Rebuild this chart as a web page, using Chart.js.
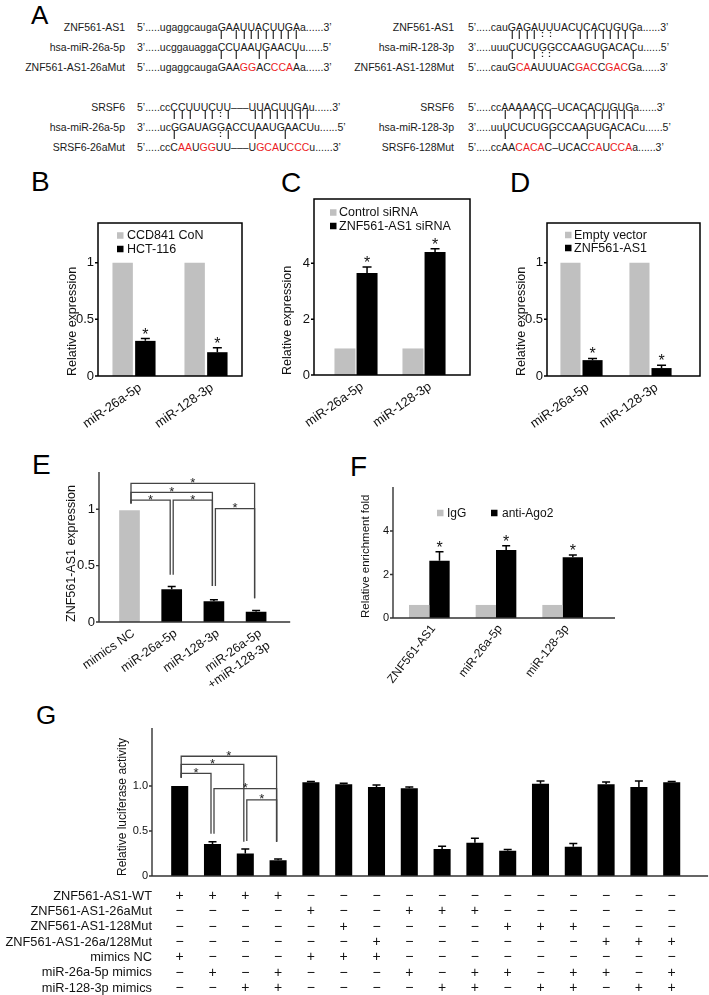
<!DOCTYPE html>
<html>
<head>
<meta charset="utf-8">
<script src="https://cdn.jsdelivr.net/npm/chart.js@4.4.1/dist/chart.umd.min.js"></script>
<style>
body { margin: 0; background: #fff; }
#page { position: relative; width: 709px; height: 995px; overflow: hidden; background: #fff;
  font-family: "Liberation Sans", Arial, Helvetica, sans-serif; color: #1a1a1a; }
.abs { position: absolute; white-space: nowrap; line-height: 1; }
.pm { font-weight: bold; color: #222; filter: grayscale(100%); }
canvas { position: absolute; }
</style>
</head>
<body>
<div id="page"></div>
<script>
// ---------- data ----------
// panel A: sequences, [..] = mutated (red) bases
var seqLabels = [
  ['ZNF561-AS1', 'hsa-miR-26a-5p', 'ZNF561-AS1-26aMut'],
  ['ZNF561-AS1', 'hsa-miR-128-3p', 'ZNF561-AS1-128Mut'],
  ['SRSF6', 'hsa-miR-26a-5p', 'SRSF6-26aMut'],
  ['SRSF6', 'hsa-miR-128-3p', 'SRSF6-128Mut']
];
var seqTexts = [
  ['5’.....ugaggcaugaGAAUUACUUGAa......3’', '3’.....ucggauaggaCCUAAUGAACUu......5’', '5’.....ugaggcaugaGAA[GG]AC[CCA]Aa......3’'],
  ['5’.....cauGAGAUUUACUCACUGUGa......3’', '3’.....uuuCUCUGGCCAAGUGACACu......5’', '5’.....cauG[CA]AUUUAC[GAC]C[GAC]Ga......3’'],
  ['5’.....ccCCUUUCUU–––UUACUUGAu......3’', '3’.....ucGGAUAGGACCUAAUGAACUu......5’', '5’.....ccC[AA]U[GG]UU–––U[GCA]U[CCC]u......3’'],
  ['5’.....ccAAAAACC–UCACACUGUGa......3’', '3’.....uuUCUCUGGCCAAGUGACACu......5’', '5’.....ccAA[CACA]C–UCAC[CA]U[CCA]a......3’']
];
// base pairing marks, aligned by character with the rows above/below
var seqPairs = [
  ['                 | |||||||||', '                 | |  ||   |'],
  ['          ||||::   ||||||||', '          |  |::      |   |'],
  ['         ||| ||:|   ||||||||', '         |     :|   |   |'],
  ['         | | |||    |||||||', '         |     |    |  |']
];

// panel B
var bCats = ['miR-26a-5p', 'miR-128-3p'];
var bNames = ['CCD841 CoN', 'HCT-116'];
var bCtrl = [1, 1];
var bHct = [0.31, 0.21];
var bHctErr = [0.02, 0.04];
var bTicks = [0, 0.5, 1];

// panel C
var cNames = ['Control siRNA', 'ZNF561-AS1 siRNA'];
var cCtrl = [0.95, 0.95];
var cSi = [3.65, 4.40];
var cSiErr = [0.22, 0.12];
var cTicks = [0, 2, 4];

// panel D
var dNames = ['Empty vector', 'ZNF561-AS1'];
var dEmpty = [1, 1];
var dZnf = [0.14, 0.07];
var dZnfErr = [0.015, 0.025];

// panel E
var eCats = ['mimics NC', 'miR-26a-5p', 'miR-128-3p', ['miR-26a-5p', '+miR-128-3p']];
var eVals = [0.99, 0.29, 0.185, 0.09];
var eErr = [0, 0.025, 0.012, 0.012];
// [from, to, bracket level, leg end at from, leg end at to]
var eSig = [[0, 3, 1.23, 1.05, 0.21], [0, 2, 1.15, 1.05, 0.32], [0, 1, 1.08, 1.05, 0.42],
            [1, 2, 1.08, 0.42, 0.32], [2, 3, 1.006, 0.32, 0.21]];

// panel F
var fCats = ['ZNF561-AS1', 'miR-26a-5p', 'miR-128-3p'];
var fNames = ['IgG', 'anti-Ago2'];
var fIgG = [0.6, 0.6, 0.6];
var fAgo = [2.63, 3.12, 2.79];
var fAgoErr = [0.42, 0.2, 0.1];
var fTicks = [0, 2, 4];

// panel G
var gVals = [1.0, 0.355, 0.25, 0.175, 1.04, 1.02, 0.99, 0.975, 0.30, 0.37, 0.28, 1.025, 0.325, 1.02, 0.99, 1.04];
var gErr = [0, 0.025, 0.05, 0.015, 0.01, 0.01, 0.02, 0.015, 0.03, 0.05, 0.015, 0.03, 0.035, 0.025, 0.065, 0.01];
var gSig = [[0, 3, 1.33, 1.09, 0.38], [0, 2, 1.24, 1.09, 0.38], [0, 1, 1.14, 1.09, 0.47],
            [1, 3, 0.97, 0.47, 0.38], [2, 3, 0.845, 0.39, 0.38]];
var gTicks = [0, 0.5, 1];
var gRowLabels = ['ZNF561-AS1-WT', 'ZNF561-AS1-26aMut', 'ZNF561-AS1-128Mut', 'ZNF561-AS1-26a/128Mut',
                  'mimics NC', 'miR-26a-5p mimics', 'miR-128-3p mimics'];
var gRows = [
  '++++------------',
  '----+--+++------',
  '-----+----+++---',
  '------+------+++',
  '+---+++---------',
  '-+-+---+-++-++-+',
  '--++----++-++-++'
];

// ---------- helpers ----------
var FONT = '"Liberation Sans", Arial, Helvetica, sans-serif';
var GRAY = '#c0c0c0';
var page = document.getElementById('page');

function txt(s, x, base, size, right) {
  var d = document.createElement('div');
  d.className = 'abs';
  d.style.fontSize = size + 'px';
  d.style.top = (base - 0.8465 * size) + 'px';
  if (right) d.style.right = (709 - x) + 'px'; else d.style.left = x + 'px';
  d.textContent = s;
  page.appendChild(d);
  return d;
}

function seqRow(s, x, base, size) {
  var d = txt('', x, base, size);
  var red = false, spans = [];
  for (var ch of s) {
    if (ch === '[') { red = true; continue; }
    if (ch === ']') { red = false; continue; }
    var sp = document.createElement('span');
    sp.textContent = ch;
    if (red) sp.style.color = '#ec1c24';
    d.appendChild(sp);
    spans.push(sp);
  }
  return spans;
}

function mid(el) {
  var r = el.getBoundingClientRect();
  return r.left + r.width / 2 - page.getBoundingClientRect().left;
}

// panel letters
[['A', 31, 1.6, 26], ['B', 31, 168.3, 28], ['C', 281, 169.3, 28], ['D', 510, 169.3, 28],
 ['E', 32, 451.3, 28], ['F', 350, 453.3, 28], ['G', 36, 701.6, 26]].forEach(function (l) {
  var d = txt(l[0], l[1], 0, l[3]);
  d.style.top = l[2] + 'px';
  d.style.color = '#000';
});

// panel A
var aPos = [[125, 137, 31], [454, 468, 31], [125, 137, 110.5], [454, 468, 110.5]];
seqLabels.forEach(function (labs, g) {
  var lx = aPos[g][0], sx = aPos[g][1], y0 = aPos[g][2];
  var rows = [];
  labs.forEach(function (lab, r) {
    txt(lab, lx, y0 + r * 20, 10.5, true);
    rows.push(seqRow(seqTexts[g][r], sx, y0 + r * 20, 10.5));
  });
  seqPairs[g].forEach(function (pr, r) {
    [...pr].forEach(function (c, k) {
      if (c === ' ') return;
      var cx = (mid(rows[r][k]) + mid(rows[r + 1][k])) / 2;
      var d = txt(c, 0, y0 + r * 20 + 6.8, 9);
      d.classList.add('pm');
      d.style.left = Math.round(cx - d.getBoundingClientRect().width / 2) + 'px';
    });
  });
});

// ---------- chart plugin: frame, y labels, error bars, stars, legend, brackets, table ----------
var deco = {
  id: 'deco',
  afterDatasetsDraw: function (chart, args, o) {
    var ctx = chart.ctx, a = chart.chartArea, ys = chart.scales.y, xs = chart.scales.x;
    var L = a.left - o.l, R = a.right + o.r;
    ctx.save();
    ctx.lineWidth = o.lw;
    ctx.strokeStyle = o.lc;
    ctx.beginPath();
    if (o.box) ctx.rect(L, a.top, R - L, a.bottom - a.top);
    else { ctx.moveTo(L, a.top); ctx.lineTo(L, a.bottom); ctx.lineTo(R, a.bottom); }
    ys.ticks.forEach(function (t) {
      var p = ys.getPixelForValue(t.value);
      ctx.moveTo(L, p); ctx.lineTo(L - 3, p);
    });
    ctx.stroke();

    ctx.fillStyle = '#111';
    ctx.font = o.ys + 'px ' + FONT;
    ctx.textAlign = 'right';
    ctx.textBaseline = 'middle';
    ys.ticks.forEach(function (t) {
      ctx.fillText(t.label, L - 4, ys.getPixelForValue(t.value));
    });

    chart.data.datasets.forEach(function (ds, i) {
      chart.getDatasetMeta(i).data.forEach(function (bar, j) {
        var e = ds.err ? ds.err[j] : 0;
        var top = ys.getPixelForValue(ds.data[j] + e);
        if (e) {
          ctx.beginPath();
          ctx.strokeStyle = '#000';
          ctx.lineWidth = 1.5;
          ctx.moveTo(bar.x, bar.y); ctx.lineTo(bar.x, top);
          ctx.moveTo(bar.x - o.cap / 2, top); ctx.lineTo(bar.x + o.cap / 2, top);
          ctx.stroke();
        }
        if (ds.star) {
          ctx.fillStyle = '#111';
          ctx.font = '16px ' + FONT;
          ctx.textAlign = 'center';
          ctx.textBaseline = 'alphabetic';
          ctx.fillText('*', bar.x, top + 1);
        }
      });
    });

    if (o.legend) {
      ctx.font = o.legend.size + 'px ' + FONT;
      ctx.textBaseline = 'middle';
      ctx.textAlign = 'left';
      o.legend.items.forEach(function (it, i) {
        var ds = chart.data.datasets[i];
        ctx.fillStyle = ds.backgroundColor;
        ctx.fillRect(L + it[0], a.top + it[2] - 3.25, 6.5, 6.5);
        ctx.fillStyle = '#111';
        ctx.fillText(ds.label, L + it[1], a.top + it[2] + 0.5);
      });
    }

    if (o.sig) {
      var m = chart.getDatasetMeta(0).data;
      ctx.strokeStyle = '#444';
      ctx.lineWidth = 1.3;
      ctx.fillStyle = '#222';
      ctx.font = '13px ' + FONT;
      ctx.textAlign = 'center';
      ctx.textBaseline = 'alphabetic';
      o.sig.forEach(function (p) {
        var x1 = m[p[0]].x + 1.5, x2 = m[p[1]].x - 1.5, yl = ys.getPixelForValue(p[2]);
        ctx.beginPath();
        ctx.moveTo(x1, ys.getPixelForValue(p[3]));
        ctx.lineTo(x1, yl); ctx.lineTo(x2, yl);
        ctx.lineTo(x2, ys.getPixelForValue(p[4]));
        ctx.stroke();
        ctx.fillText('*', (m[p[0]].x + m[p[1]].x) / 2, yl + 3.5);
      });
    }

    if (o.table) {
      var t = o.table;
      ctx.fillStyle = '#111';
      ctx.textBaseline = 'middle';
      t.rows.forEach(function (row, r) {
        var yy = a.bottom + t.y0 + r * t.step;
        ctx.font = t.size + 'px ' + FONT;
        ctx.textAlign = 'right';
        ctx.fillText(t.labels[r], L, yy);
        ctx.font = t.msize + 'px ' + FONT;
        ctx.textAlign = 'center';
        [...row].forEach(function (c, k) {
          ctx.fillText(c === '+' ? '+' : '\u2212', xs.getPixelForValue(k), yy);
        });
      });
    }
    ctx.restore();
  }
};

Chart.defaults.font.family = FONT;
Chart.defaults.color = '#111';

function mk(box, area, labels, datasets, o) {
  var cv = document.createElement('canvas');
  cv.width = box[2];
  cv.height = box[3];
  cv.style.left = box[0] + 'px';
  cv.style.top = box[1] + 'px';
  page.appendChild(cv);
  o.deco.ys = o.yt.size;
  return new Chart(cv, {
    type: 'bar',
    data: { labels: labels, datasets: datasets },
    options: {
      responsive: false,
      animation: false,
      events: [],
      layout: { padding: { top: area.t - box[1], right: box[0] + box[2] - area.r, left: 0, bottom: 0 } },
      datasets: { bar: { borderWidth: 0, categoryPercentage: o.cp, barPercentage: o.bp } },
      plugins: { legend: { display: false }, tooltip: { enabled: false }, deco: o.deco },
      scales: {
        x: {
          grid: { display: false, drawTicks: false },
          border: { display: false },
          ticks: o.xt ? { autoSkip: false, minRotation: o.xt.rot, maxRotation: o.xt.rot, padding: o.xt.pad,
                          labelOffset: o.xt.off, font: { size: o.xt.size } } : { display: false },
          afterFit: function (s) { s.height = box[1] + box[3] - area.b; }
        },
        y: {
          min: 0,
          max: o.ymax,
          grid: { display: false, drawTicks: false },
          border: { display: false },
          afterBuildTicks: function (s) { s.ticks = o.ticks.map(function (v) { return { value: v }; }); },
          ticks: { display: false, callback: o.yt.fmt || function (v) { return String(v); } },
          title: { display: true, text: o.title, align: 'start', color: '#111', font: { size: o.tsize },
                   padding: { top: o.tx - box[0] - 0.6 * o.tsize, bottom: 0 } },
          afterFit: function (s) { s.width = area.l - box[0]; }
        }
      }
    },
    plugins: [deco]
  });
}

// B
mk([0, 195, 246, 250], { l: 98, t: 223, r: 242, b: 376 }, bCats, [
  { label: bNames[0], data: bCtrl, backgroundColor: GRAY },
  { label: bNames[1], data: bHct, err: bHctErr, star: true, backgroundColor: '#000' }
], { cp: 0.63, bp: 0.9, ymax: 1.35, ticks: bTicks, yt: { size: 13 },
     xt: { rot: 35, pad: 4, off: 6, size: 13 }, title: 'Relative expression', tsize: 12.5, tx: 72.5,
     deco: { box: true, l: 0, r: 0, lw: 1.5, lc: '#000', cap: 9,
             legend: { size: 12.5, items: [[19, 29, 12.5], [19, 29, 26]] } } });

// C
mk([240, 180, 240, 265], { l: 322, t: 199, r: 458, b: 375 }, bCats, [
  { label: cNames[0], data: cCtrl, backgroundColor: GRAY },
  { label: cNames[1], data: cSi, err: cSiErr, star: true, backgroundColor: '#000' }
], { cp: 0.65, bp: 0.95, ymax: 6.3, ticks: cTicks, yt: { size: 13 },
     xt: { rot: 35, pad: 4, off: 6, size: 13 }, title: 'Relative expression', tsize: 12.5, tx: 288,
     deco: { box: true, l: 8, r: 12, lw: 1.5, lc: '#000', cap: 9,
             legend: { size: 12.5, items: [[16, 25, 13.5], [16, 25, 27]] } } });

// D
mk([480, 195, 229, 250], { l: 547, t: 223, r: 685, b: 376 }, bCats, [
  { label: dNames[0], data: dEmpty, backgroundColor: GRAY },
  { label: dNames[1], data: dZnf, err: dZnfErr, star: true, backgroundColor: '#000' }
], { cp: 0.64, bp: 0.91, ymax: 1.35, ticks: bTicks, yt: { size: 13 },
     xt: { rot: 35, pad: 4, off: 6, size: 13 }, title: 'Relative expression', tsize: 12.5, tx: 522,
     deco: { box: true, l: 0, r: 15, lw: 1.5, lc: '#000', cap: 9,
             legend: { size: 12.5, items: [[18, 27, 12], [18, 27, 25]] } } });

// E
mk([0, 450, 300, 245], { l: 108.4, t: 472, r: 277.2, b: 622 }, eCats, [
  { label: 'ZNF561-AS1 expression', data: eVals, err: eErr, backgroundColor: [GRAY, '#000', '#000', '#000'] }
], { cp: 1, bp: 0.49, ymax: 1.33, ticks: bTicks, yt: { size: 13 },
     xt: { rot: 35, pad: 4, off: 4, size: 12.5 }, title: 'ZNF561-AS1 expression', tsize: 12.5, tx: 72,
     deco: { box: false, l: 9.4, r: 13, lw: 1.4, lc: '#333', cap: 8, sig: eSig } });

// F
mk([330, 465, 379, 230], { l: 396, t: 487, r: 596, b: 618 }, fCats, [
  { label: fNames[0], data: fIgG, backgroundColor: GRAY },
  { label: fNames[1], data: fAgo, err: fAgoErr, star: true, backgroundColor: '#000' }
], { cp: 0.61, bp: 1, ymax: 6.02, ticks: fTicks, yt: { size: 11 },
     xt: { rot: 52, pad: 4, off: 4, size: 12 }, title: 'Relative enrichment fold', tsize: 11.5, tx: 366,
     deco: { box: false, l: 3, r: 19, lw: 1.4, lc: '#333', cap: 8,
             legend: { size: 12, items: [[44, 54, 26], [98, 109, 26]] } } });

// G
mk([0, 690, 709, 305], { l: 163.3, t: 728, r: 688.1, b: 876 }, gVals.map(function (v, i) { return String(i + 1); }), [
  { label: 'Relative luciferase activity', data: gVals, err: gErr, backgroundColor: '#000' }
], { cp: 1, bp: 0.52, ymax: 1.644, ticks: gTicks,
     yt: { size: 11, fmt: function (v) { return v === 0 ? '0' : v.toFixed(1); } },
     title: 'Relative luciferase activity', tsize: 12, tx: 123,
     deco: { box: false, l: 11.3, r: 20, lw: 1.4, lc: '#333', cap: 8, sig: gSig,
             table: { labels: gRowLabels, rows: gRows, y0: 20, step: 15.35, size: 12.8, msize: 14 } } });
</script>
</body>
</html>
